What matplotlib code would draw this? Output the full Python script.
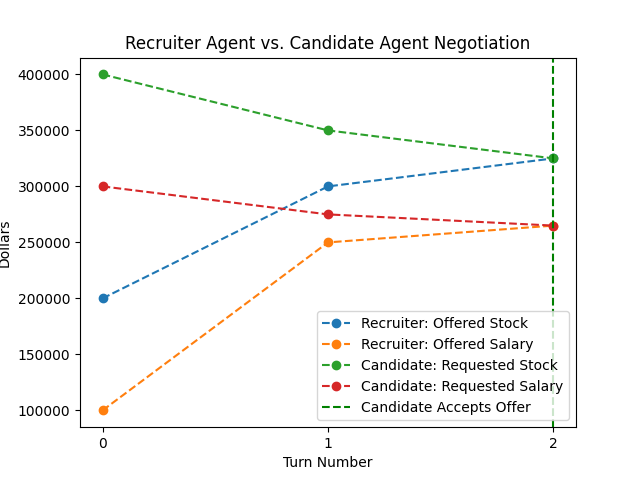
import matplotlib
matplotlib.use('Agg')
import matplotlib.pyplot as plt

turns = [0, 1, 2]
recruiter_stock = [200000, 300000, 325000]
recruiter_salary = [100000, 250000, 265000]
candidate_stock = [400000, 350000, 325000]
candidate_salary = [300000, 275000, 265000]
accept_turn = 2

fig, ax = plt.subplots(figsize=(6.4, 4.8), dpi=100)

ax.plot(turns, recruiter_stock, 'o--', label='Recruiter: Offered Stock')
ax.plot(turns, recruiter_salary, 'o--', label='Recruiter: Offered Salary')
ax.plot(turns, candidate_stock, 'o--', label='Candidate: Requested Stock')
ax.plot(turns, candidate_salary, 'o--', label='Candidate: Requested Salary')
ax.axvline(accept_turn, color='green', linestyle='--', label='Candidate Accepts Offer')

ax.set_xticks(turns)
ax.set_xlabel('Turn Number')
ax.set_ylabel('Dollars')
ax.set_title('Recruiter Agent vs. Candidate Agent Negotiation')
ax.legend(loc='lower right')

fig.savefig('out.png')
